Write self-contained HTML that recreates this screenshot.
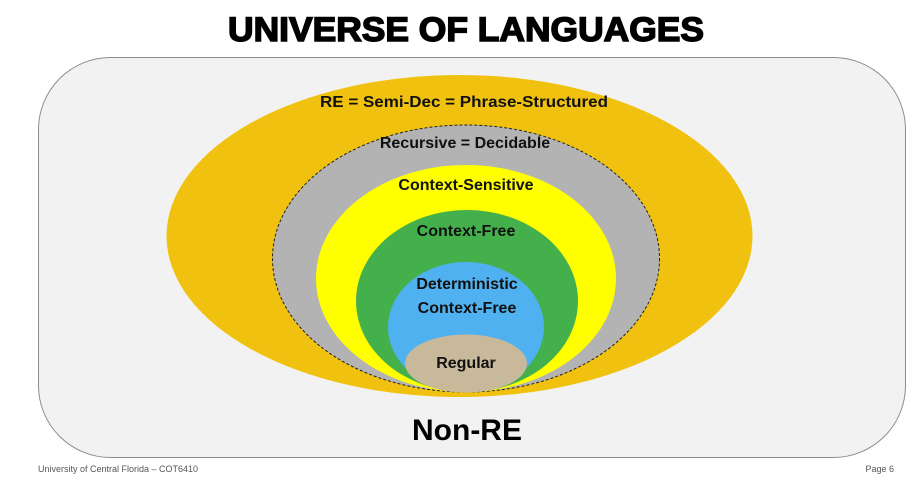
<!DOCTYPE html>
<html><head><style>html,body{margin:0;padding:0;background:#fff}svg{display:block}</style></head>
<body>
<svg width="922" height="477" viewBox="0 0 922 477" xmlns="http://www.w3.org/2000/svg">
<text x="466" y="41" text-anchor="middle" font-family="Liberation Sans, sans-serif" font-weight="bold" font-size="34" fill="#000" stroke="#000" stroke-width="1.5" textLength="476" lengthAdjust="spacingAndGlyphs">UNIVERSE OF LANGUAGES</text>
<rect x="38.5" y="57.5" width="867" height="400" rx="72" fill="#f2f2f2" stroke="#8c8c8c" stroke-width="1"/>
<ellipse cx="459.5" cy="236" rx="293" ry="161" fill="#f0c10e"/>
<ellipse cx="466" cy="258.5" rx="193.5" ry="133.5" fill="#b3b3b3" stroke="#222" stroke-width="1" stroke-dasharray="3,2"/>
<ellipse cx="466" cy="278.5" rx="150" ry="113.5" fill="#ffff00"/>
<ellipse cx="467" cy="301" rx="111" ry="91" fill="#44b04c"/>
<ellipse cx="466" cy="327" rx="78" ry="65" fill="#4fb1ef"/>
<ellipse cx="466" cy="363.5" rx="61" ry="29" fill="#c9b99b"/>
<g font-family="Liberation Sans, sans-serif" font-weight="bold" font-size="16" fill="#111" text-anchor="middle">
<text x="464" y="107" textLength="288" lengthAdjust="spacingAndGlyphs">RE = Semi-Dec = Phrase-Structured</text>
<text x="465" y="148">Recursive = Decidable</text>
<text x="466" y="190">Context-Sensitive</text>
<text x="466" y="236">Context-Free</text>
<text x="467" y="289">Deterministic</text>
<text x="467" y="313">Context-Free</text>
<text x="466" y="368">Regular</text>
<text x="467" y="440" font-size="30" fill="#000">Non-RE</text>
</g>
<text x="38" y="472" font-family="Liberation Sans, sans-serif" font-size="9" fill="#555">University of Central Florida – COT6410</text>
<text x="894" y="472" text-anchor="end" font-family="Liberation Sans, sans-serif" font-size="9" fill="#555">Page 6</text>
</svg>
</body></html>
